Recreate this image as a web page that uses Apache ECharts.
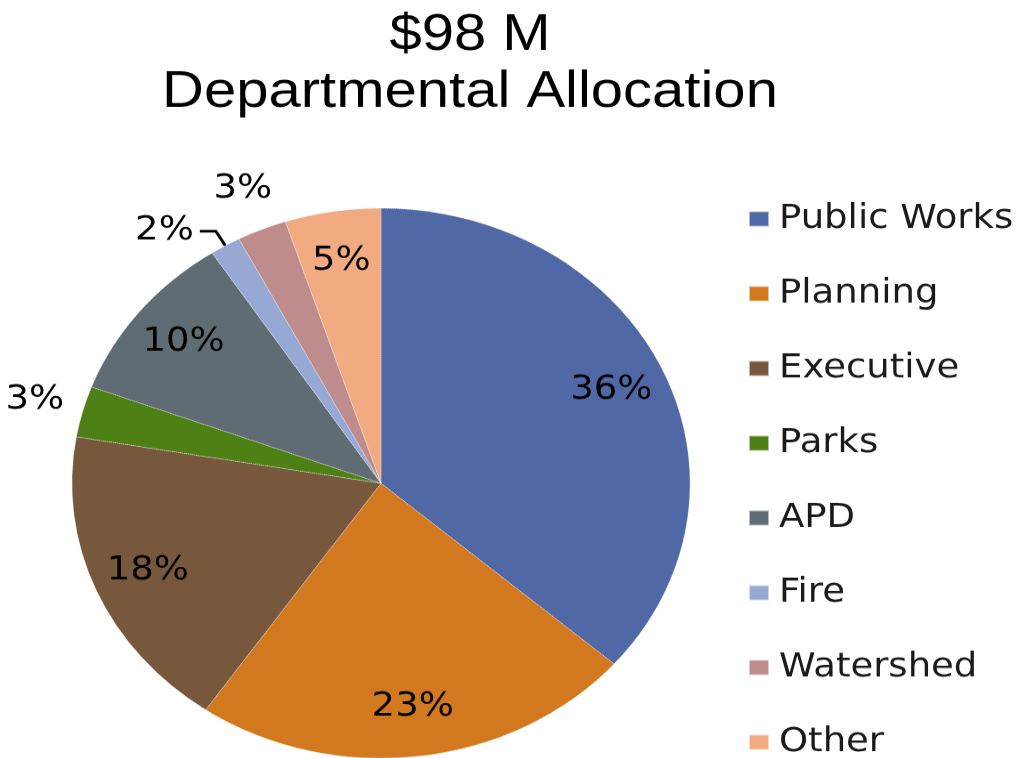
<!DOCTYPE html>
<html>
<head>
<meta charset="utf-8">
<script src="https://cdn.jsdelivr.net/npm/echarts@6/dist/echarts.min.js"></script>
<style>
  html, body { margin: 0; padding: 0; background: #fff; overflow: hidden; }
  /* the reference is squeezed vertically, so the whole chart is drawn taller and scaled down */
  #wrap { width: 1020px; height: 758px; overflow: hidden; }
  #chart { width: 1020px; height: 880px; transform: scaleY(0.89); transform-origin: 0 0; }
</style>
</head>
<body>
<div id="wrap"><div id="chart"></div></div>
<script>
// share of the $98 M, in percent
const departments = ["Public Works", "Planning", "Executive", "Parks", "APD", "Fire", "Watershed", "Other"];
const shares = [36.4, 23.2, 18.1, 3.0, 10.1, 1.6, 2.6, 5.0];
const colors = ["#5068A6", "#D2781E", "#78583C", "#4E8016", "#606C74", "#96A8D4", "#BE8C8C", "#F2AA80"];

// slices whose label sits outside the pie
const outerLabels = ["Parks", "Watershed"];
const leaderLabels = ["Fire"];

const chart = echarts.init(document.getElementById("chart"));

const center = [381, 543];
const radius = 309;
const labelFont = {
  fontFamily: "DejaVu Sans",
  fontSize: 37,
  color: "#000",
};

function labelSeries(r, names) {
  return {
    type: "pie",
    silent: true,
    center: center,
    radius: [0, r],
    startAngle: 90,
    percentPrecision: 0,
    avoidLabelOverlap: false,
    emphasis: { disabled: true },
    itemStyle: { color: "rgba(0,0,0,0)", borderWidth: 0 },
    labelLine: { show: false },
    data: departments.map((name, i) => ({
      name: name,
      value: shares[i],
      label: {
        show: names.indexOf(name) >= 0,
        position: "inside",
        formatter: "{d}%",
        ...labelFont,
      },
    })),
  };
}

const inner = departments.filter(
  (n) => outerLabels.indexOf(n) < 0 && leaderLabels.indexOf(n) < 0
);

const option = {
  backgroundColor: "#fff",
  animation: false,
  title: {
    text: "$98 M\nDepartmental Allocation",
    left: 470,
    top: 8,
    padding: 0,
    textAlign: "center",
    textStyle: {
      fontFamily: "Liberation Sans",
      fontSize: 58,
      fontWeight: "normal",
      lineHeight: 64,
      color: "#000",
    },
  },
  legend: {
    orient: "vertical",
    left: 748,
    top: 226,
    padding: 0,
    itemWidth: 20,
    itemHeight: 17,
    itemGap: 44,
    icon: "rect",
    data: departments,
    textStyle: {
      fontFamily: "DejaVu Sans",
      fontSize: 37,
      lineHeight: 40,
      color: "#1a1a1a",
      padding: [0, 0, 0, 5],
    },
  },
  series: [
    {
      type: "pie",
      center: center,
      radius: [0, radius],
      startAngle: 90,
      percentPrecision: 0,
      avoidLabelOverlap: false,
      emphasis: { disabled: true },
      itemStyle: {
        borderColor: "rgba(255,255,255,0.55)",
        borderWidth: 1,
        borderType: "dotted",
      },
      data: departments.map((name, i) => ({
        name: name,
        value: shares[i],
        itemStyle: { color: colors[i] },
        label: {
          show: leaderLabels.indexOf(name) >= 0,
          position: "outside",
          formatter: "{d}%",
          distanceToLabelLine: 6,
          ...labelFont,
        },
        labelLine: {
          show: leaderLabels.indexOf(name) >= 0,
          length: 19,
          length2: 16,
          lineStyle: { color: "#000", width: 3 },
        },
      })),
    },
    labelSeries(500, inner),
    labelSeries(711, outerLabels),
  ],
};

chart.setOption(option);
</script>
</body>
</html>
